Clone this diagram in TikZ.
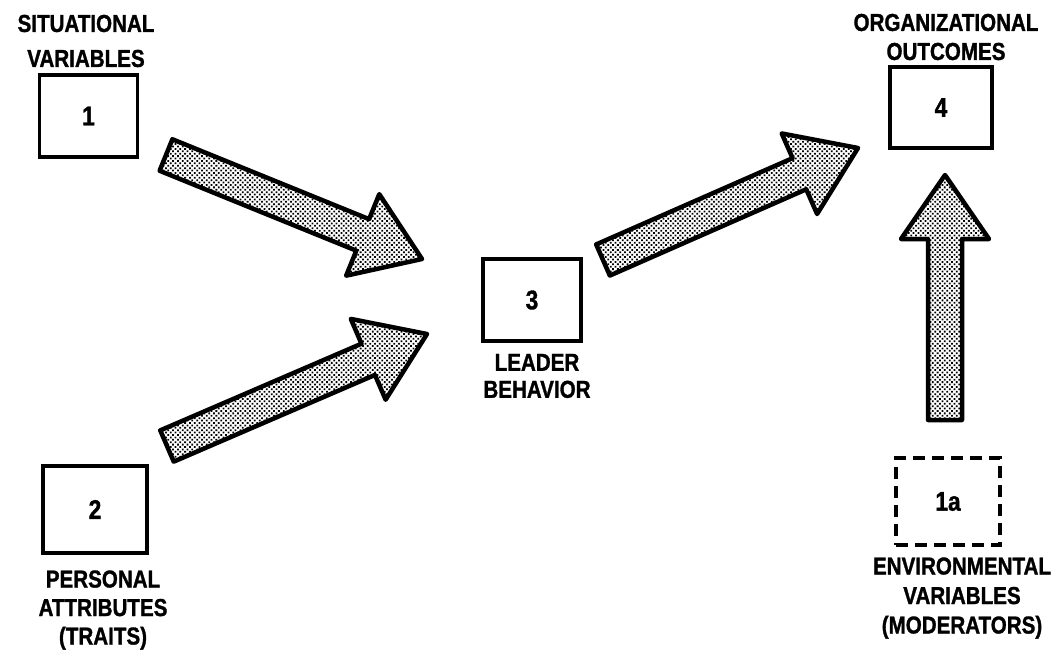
\documentclass[tikz,border=0pt]{standalone}
\usepackage{fontspec}
\newfontfamily\labelfont{Liberation Sans}[FakeStretch=0.84, FakeBold=1.2]
\usetikzlibrary{calc,patterns.meta}

% fat stippled block arrow from tail centre #1 to tip #2
\newcommand\fatarrow[2]{%
  \coordinate (#1-base) at ($(#2)!64pt!(#1)$);
  \draw[arrowbody]
    ($(#1)!17pt!90:(#2)$) -- ($(#1-base)!17pt!90:(#2)$) --
    ($(#1-base)!44pt!90:(#2)$) -- (#2) --
    ($(#1-base)!44pt!-90:(#2)$) -- ($(#1-base)!17pt!-90:(#2)$) --
    ($(#1)!17pt!-90:(#2)$) -- cycle;
}

\tikzset{
  box/.style={draw, line width=3.2pt, minimum width=98pt, minimum height=82pt,
    inner sep=0pt, font=\labelfont\bfseries\fontsize{27}{27}\selectfont},
  bigbox/.style={box, minimum width=104pt, minimum height=87pt},
  dashbox/.style={bigbox, dash pattern=on 12pt off 7pt},
  lbl/.style={inner sep=0pt, align=center},
  arrowbody/.style={draw, line width=4.5pt, line join=round,
    pattern={Dots[radius=1.25pt, distance=3.4pt, angle=45]}},
}

\begin{document}
\begin{tikzpicture}[x=1pt, y=-1pt]
  \useasboundingbox (0,0) rectangle (1057,661);

  % boxes
  \node[box]     (b1)  at (88.5,116)  {1};
  \node[bigbox]  (b2)  at (95,509.5)  {2};
  \node[box]     (b3)  at (532,300)   {3};
  \node[box, minimum width=102pt, minimum height=81pt] (b4) at (941,107.5) {4};
  \node[dashbox] (b1a) at (948,501.5) {1a};

  % captions
  \node[lbl, font=\labelfont\bfseries\fontsize{24.5}{35}\selectfont] (l1) at (86,41)
    {SITUATIONAL\\VARIABLES};
  \node[lbl, font=\labelfont\bfseries\fontsize{24.5}{29}\selectfont] (l4) at (946,37)
    {ORGANIZATIONAL\\OUTCOMES};
  \node[lbl, font=\labelfont\bfseries\fontsize{24.5}{27}\selectfont] (l3) at (537,376)
    {LEADER\\BEHAVIOR};
  \node[lbl, font=\labelfont\bfseries\fontsize{24.5}{28.5}\selectfont] (l2) at (103,610)
    {PERSONAL\\ATTRIBUTES\\(TRAITS)};
  \node[lbl, font=\labelfont\bfseries\fontsize{24.5}{29.5}\selectfont] (l1a) at (962,598)
    {ENVIRONMENTAL\\VARIABLES\\(MODERATORS)};

  % arrow end points
  \coordinate (tA) at (166,155);  \coordinate (hA) at (422,259);
  \coordinate (tB) at (167,446);  \coordinate (hB) at (427,334);
  \coordinate (tC) at (603,260);  \coordinate (hC) at (858,148);
  \coordinate (tD) at (945,420);  \coordinate (hD) at (945,175);

  \fatarrow{tA}{hA}
  \fatarrow{tB}{hB}
  \fatarrow{tC}{hC}
  \fatarrow{tD}{hD}
\end{tikzpicture}
\end{document}
